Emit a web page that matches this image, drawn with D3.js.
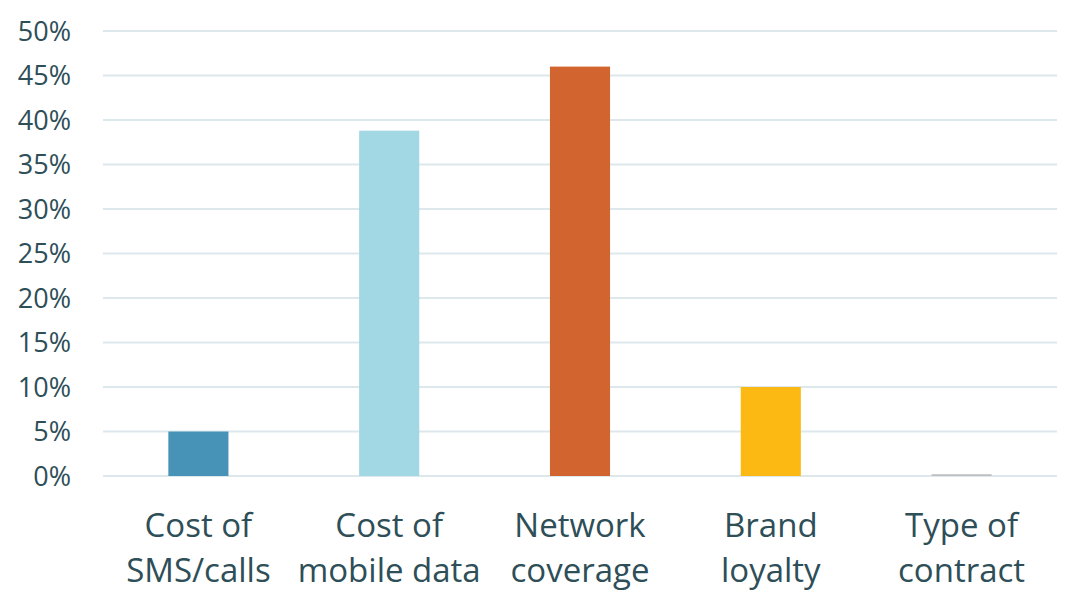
<!DOCTYPE html>
<html>
<head>
<meta charset="utf-8">
<script src="https://cdn.jsdelivr.net/npm/d3@7"></script>
<style>
  body { margin: 0; background: #fff; }
  text { font-family: "Open Sans", sans-serif; fill: #2e4e58; }
</style>
</head>
<body>
<svg id="chart" width="1079" height="604"></svg>
<script>
var categories = [["Cost of", "SMS/calls"], ["Cost of", "mobile data"], ["Network", "coverage"], ["Brand", "loyalty"], ["Type of", "contract"]],
    values = [5, 38.8, 46, 10, 0.2],
    colors = ["#4793b7", "#a2d7e4", "#d1642f", "#fdb913", "#c0c0c0"],
    ticks = [0, 5, 10, 15, 20, 25, 30, 35, 40, 45, 50];

var svg = d3.select('#chart'),
    plotLeft = 103, plotRight = 1057, plotTop = 31, plotBottom = 476;

var x = d3.scaleBand()
    .domain(d3.range(categories.length))
    .range([plotLeft, plotRight])
    .paddingInner(0.685)
    .paddingOuter(0.3425);

var y = d3.scaleLinear().domain([0, 50]).range([plotBottom, plotTop]);

// gridlines
svg.append("g")
    .selectAll("line")
    .data(ticks)
    .enter().append("line")
    .attr("x1", plotLeft).attr("x2", plotRight)
    .attr("y1", function(d) { return y(d); })
    .attr("y2", function(d) { return y(d); })
    .attr("stroke", "#dde8ec")
    .attr("stroke-width", 2);

// y labels
svg.append("g")
    .selectAll("text")
    .data(ticks)
    .enter().append("text")
    .attr("x", 71)
    .attr("y", function(d) { return y(d); })
    .attr("dy", "0.36em")
    .attr("text-anchor", "end")
    .style("font-size", "27px")
    .text(function(d) { return d + "%"; });

// bars
svg.append("g")
    .selectAll("rect")
    .data(values)
    .enter().append("rect")
    .attr("x", function(d, i) { return x(i); })
    .attr("width", x.bandwidth())
    .attr("y", function(d) { return y(d); })
    .attr("height", function(d) { return plotBottom - y(d); })
    .attr("fill", function(d, i) { return colors[i]; });

// category labels
var lab = svg.append("g")
    .selectAll("text")
    .data(categories)
    .enter().append("text")
    .attr("text-anchor", "middle")
    .style("font-size", "33px");

lab.each(function(d, i) {
    var t = d3.select(this);
    d.forEach(function(line, j) {
        t.append("tspan")
            .attr("x", x(i) + x.bandwidth() / 2)
            .attr("y", 537 + j * 45)
            .text(line);
    });
});
</script>
</body>
</html>
